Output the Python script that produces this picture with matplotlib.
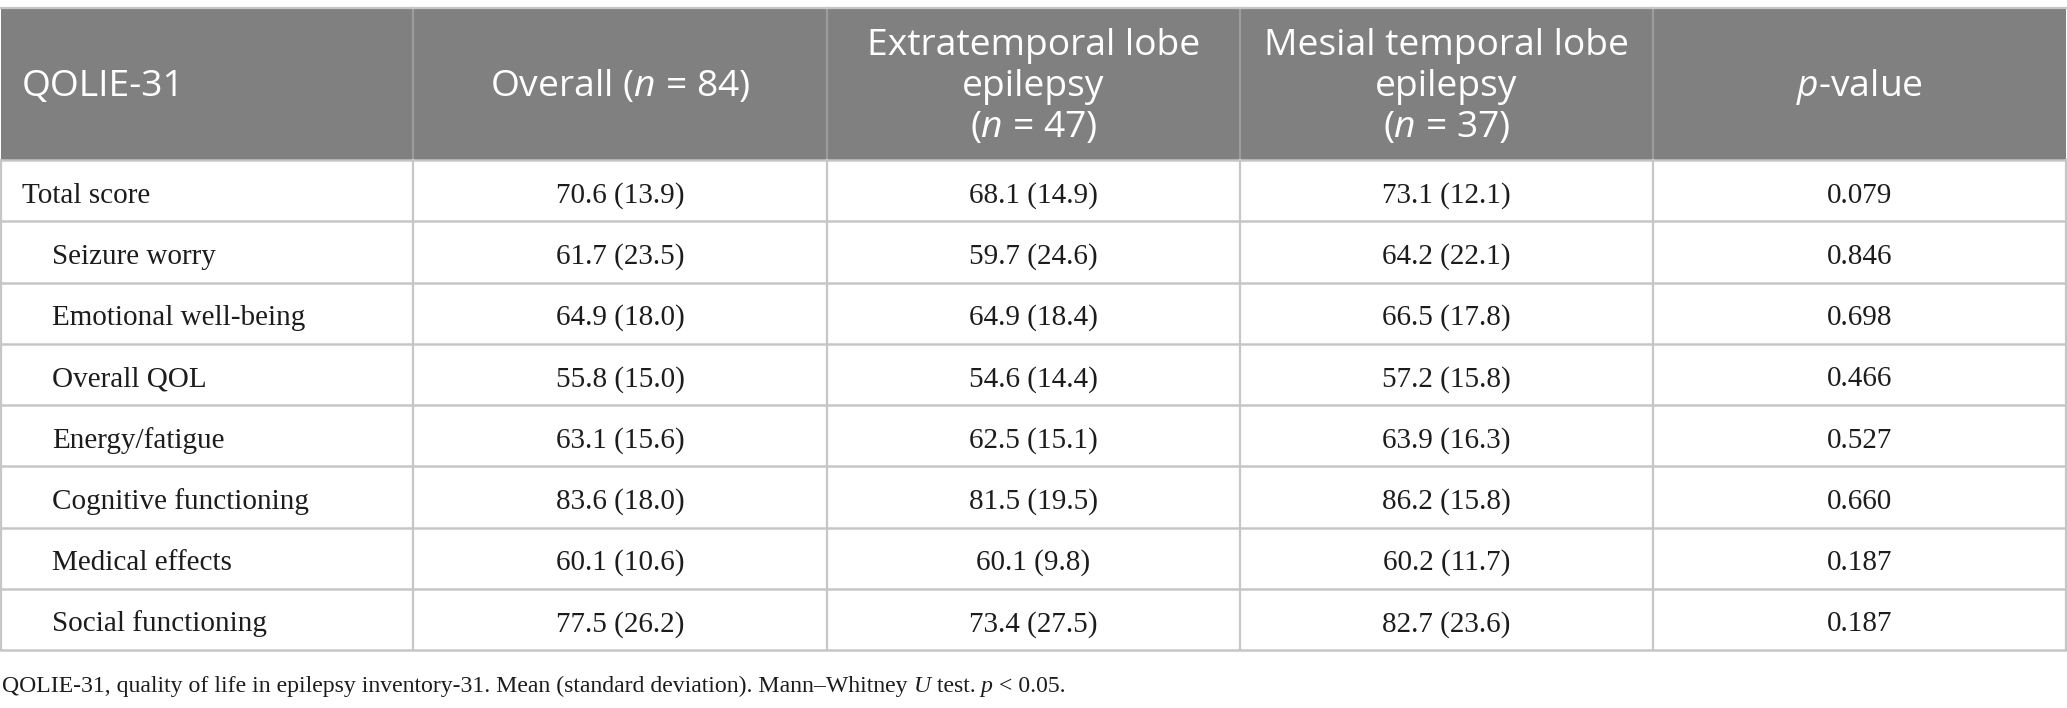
import matplotlib
matplotlib.use("Agg")
import matplotlib.pyplot as plt

# table content ------------------------------------------------------------
headers = ["QOLIE-31",
           "Overall ($n$ = 84)",
           "Extratemporal lobe\nepilepsy\n($n$ = 47)",
           "Mesial temporal lobe\nepilepsy\n($n$ = 37)",
           "$p$-value"]

rows = ["Total score", "Seizure worry", "Emotional well-being", "Overall QOL",
        "Energy/fatigue", "Cognitive functioning", "Medical effects",
        "Social functioning"]
indented = [False, True, True, True, True, True, True, True]

overall_mean = [70.6, 61.7, 64.9, 55.8, 63.1, 83.6, 60.1, 77.5]
overall_sd = [13.9, 23.5, 18.0, 15.0, 15.6, 18.0, 10.6, 26.2]
etle_mean = [68.1, 59.7, 64.9, 54.6, 62.5, 81.5, 60.1, 73.4]
etle_sd = [14.9, 24.6, 18.4, 14.4, 15.1, 19.5, 9.8, 27.5]
mtle_mean = [73.1, 64.2, 66.5, 57.2, 63.9, 86.2, 60.2, 82.7]
mtle_sd = [12.1, 22.1, 17.8, 15.8, 16.3, 15.8, 11.7, 23.6]
p_values = [0.079, 0.846, 0.698, 0.466, 0.527, 0.660, 0.187, 0.187]

footnote = [("QOLIE-31, quality of life in epilepsy inventory-31. Mean (standard deviation). Mann\u2013Whitney", "normal"),
            (" U", "italic"), (" test.", "normal"), (" p", "italic"), (" < 0.05.", "normal")]

# layout (pixels) ----------------------------------------------------------
W, H = 2067, 708
top, head_bot, bottom = 8, 160, 650
col_edges = [1, 413, 827, 1240, 1653, 2066]
row_h = (bottom - head_bot) / len(rows)

header_bg = "#808080"
grid = "#c6c6c6"
head_div = "#9c9c9c"
ink = "#1c1c1c"

plt.rcParams["mathtext.fontset"] = "custom"
plt.rcParams["mathtext.rm"] = "Open Sans"
plt.rcParams["mathtext.it"] = "Open Sans:italic"

fig = plt.figure(figsize=(W / 100, H / 100), dpi=100)
ax = fig.add_axes([0, 0, 1, 1])
ax.set_xlim(0, W)
ax.set_ylim(H, 0)
ax.axis("off")

# header block
ax.add_patch(plt.Rectangle((col_edges[0], top), col_edges[-1] - col_edges[0],
                           head_bot - top, color=header_bg, lw=0, zorder=1))
for x in col_edges[1:-1]:
    ax.plot([x, x], [top, head_bot], color=head_div, lw=1.6, zorder=2)
ax.plot([col_edges[0], col_edges[-1]], [top, top], color=grid, lw=1.6, zorder=3)

head_mid = (top + head_bot) / 2 + 3
for i, h in enumerate(headers):
    if i == 0:
        x, ha = col_edges[0] + 21, "left"
    else:
        x, ha = (col_edges[i] + col_edges[i + 1]) / 2, "center"
    ax.text(x, head_mid, h, ha=ha, va="center", multialignment="center",
            color="white", fontsize=26.8, family="Open Sans", linespacing=1.17,
            zorder=4)

# body grid
for r in range(len(rows) + 1):
    y = head_bot + r * row_h
    ax.plot([col_edges[0], col_edges[-1]], [y, y], color=grid, lw=1.8, zorder=3)
for x in col_edges:
    ax.plot([x, x], [head_bot, bottom], color=grid, lw=1.6, zorder=3)

cols = [[f"{m:.1f} ({s:.1f})" for m, s in zip(overall_mean, overall_sd)],
        [f"{m:.1f} ({s:.1f})" for m, s in zip(etle_mean, etle_sd)],
        [f"{m:.1f} ({s:.1f})" for m, s in zip(mtle_mean, mtle_sd)],
        [f"{p:.3f}" for p in p_values]]

for r, name in enumerate(rows):
    base = head_bot + (r + 0.5) * row_h + 12
    x0 = col_edges[0] + (51 if indented[r] else 21)
    ax.text(x0, base, name, ha="left", va="baseline", color=ink,
            fontsize=21, family="Liberation Serif")
    for c, vals in enumerate(cols):
        xc = (col_edges[c + 1] + col_edges[c + 2]) / 2
        ax.text(xc, base, vals[r], ha="center", va="baseline", color=ink,
                fontsize=21, family="Liberation Serif")

# footnote, pieces chained so italics sit inline
prev = None
for txt, style in footnote:
    if prev is None:
        prev = ax.text(2, 697, txt, ha="left", va="bottom", color=ink,
                       fontsize=17.1, family="Liberation Serif", style=style)
    else:
        prev = ax.annotate(txt, xy=(1, 0), xycoords=prev, ha="left", va="bottom",
                           color=ink, fontsize=17.1, family="Liberation Serif",
                           style=style)

fig.savefig("out.png", dpi=100, facecolor="white")
